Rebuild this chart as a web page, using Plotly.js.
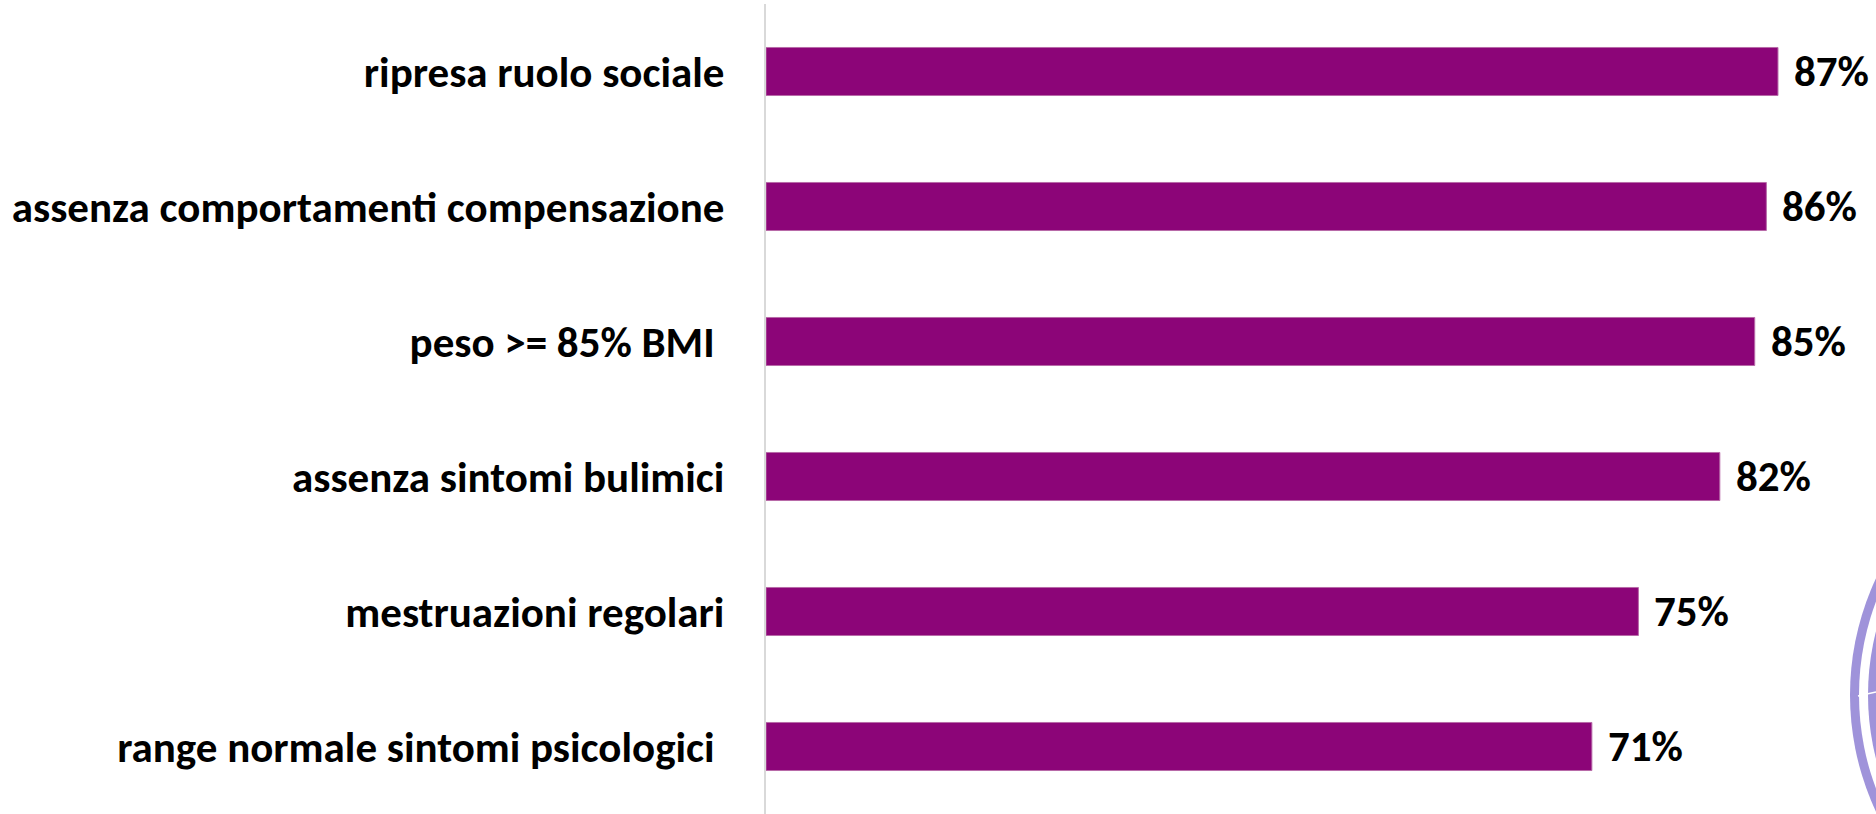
<!DOCTYPE html>
<html>
<head>
<meta charset="utf-8">
<script src="https://cdn.plot.ly/plotly-3.0.1.min.js"></script>
<style>
html,body{margin:0;padding:0;background:#fff;}
#chart{width:1876px;height:814px;}
</style>
</head>
<body>
<div id="chart"></div>
<script>
const categories = [
  "ripresa ruolo sociale",
  "assenza comportamenti compensazione",
  "peso >= 85% BMI\u00a0",
  "assenza sintomi bulimici",
  "mestruazioni regolari",
  "range normale sintomi psicologici\u00a0"
];
const values = [87, 86, 85, 82, 75, 71];
const valueLabels = values.map(v => v + '%');

const W = 1876, H = 814;
const M = {l: 766, r: 0, t: 4, b: 0};
const PW = W - M.l - M.r, PH = H - M.t - M.b;
function px(x){ return (x - M.l) / PW; }
function py(y){ return 1 - (y - M.t) / PH; }
function circ(cx, cy, r, color){
  return {type:'circle', xref:'paper', yref:'paper', layer:'above',
    x0:px(cx-r), x1:px(cx+r), y0:py(cy+r), y1:py(cy-r),
    fillcolor:color, line:{width:0}};
}
const logo = '#9f93da';
const shapes = [
  circ(2125, 695, 275, logo),
  circ(2125, 695, 266, '#ffffff'),
  circ(2125, 695, 257, logo),
  {type:'line', xref:'paper', yref:'paper', layer:'above',
   x0:px(1858), x1:px(1876), y0:py(696), y1:py(692), line:{color:'#ffffff', width:1.5}}
];

const FONT = 'Carlito, Lato, sans-serif';

const trace = {
  type: 'bar',
  orientation: 'h',
  y: categories,
  x: values,
  marker: {color: '#8c0578', line: {color: '#b86aa8', width: 1}},
  hoverinfo: 'none'
};

const annotations = values.map((v, i) => ({
  x: v, y: categories[i], xref: 'x', yref: 'y',
  text: valueLabels[i], showarrow: false,
  xanchor: 'left', yanchor: 'middle', xshift: 14,
  font: {family: FONT, size: 43, color: '#000000', weight: 'bold'}
}));

const layout = {
  width: W, height: H,
  margin: M,
  paper_bgcolor: '#ffffff',
  plot_bgcolor: '#ffffff',
  showlegend: false,
  bargap: 0.644,
  xaxis: {range: [0, 1110/11.632], showgrid: false, zeroline: false, showline: false,
          showticklabels: false, ticks: ''},
  yaxis: {autorange: 'reversed', showgrid: false, zeroline: false, showline: true,
          linecolor: '#d9d9d9', linewidth: 2, ticks: 'outside', ticklen: 0,
          ticklabelstandoff: 31,
          tickfont: {family: FONT, size: 43, color: '#000000', weight: 'bold'}},
  annotations: annotations,
  shapes: shapes
};

Plotly.newPlot('chart', [trace], layout, {displayModeBar: false, staticPlot: true});
</script>
</body>
</html>
